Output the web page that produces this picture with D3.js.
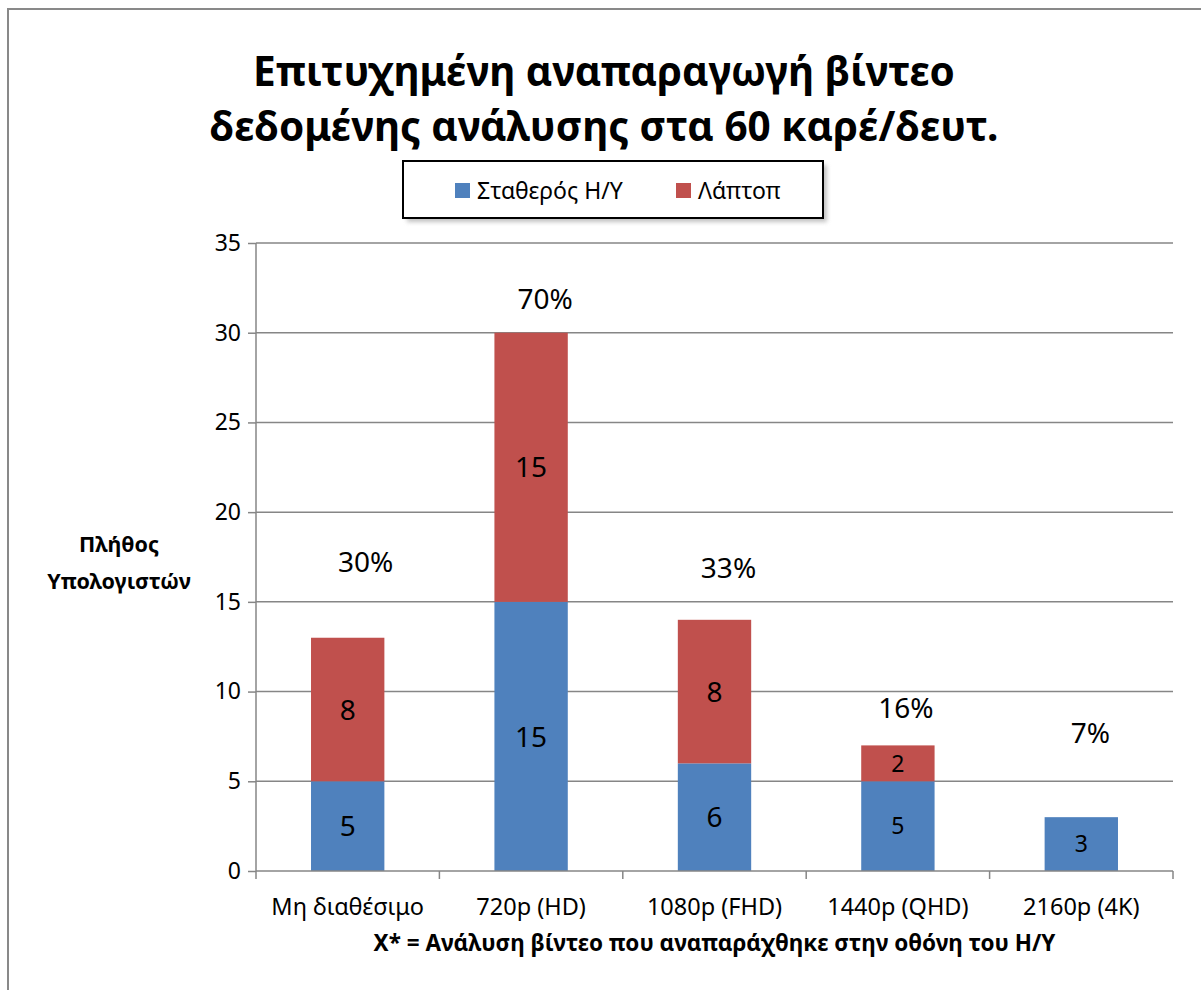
<!DOCTYPE html>
<html>
<head>
<meta charset="utf-8">
<script src="https://cdn.jsdelivr.net/npm/d3@7"></script>
<style>
  body { margin: 0; background: #fff; }
  svg { display: block; font-family: "Noto Sans", "Open Sans", sans-serif; }
</style>
</head>
<body>
<svg id="chart" width="1201" height="990"></svg>
<script>
const categories = ["Μη διαθέσιμο", "720p (HD)", "1080p (FHD)", "1440p (QHD)", "2160p (4K)"];
const desktop = [5, 15, 6, 5, 3];
const laptop = [8, 15, 8, 2, 0];
const percentLabels = ["30%", "70%", "33%", "16%", "7%"];
const percentAt = [17.2, 31.9, 16.9, 9.1, 7.7]; // where the % text sits, in y units
const yTicks = [0, 5, 10, 15, 20, 25, 30, 35];
const seriesNames = ["Σταθερός Η/Υ", "Λάπτοπ"];
const colors = ["#4F81BD", "#C0504D"];

// the % text boxes were dragged a bit right of the bar centres
const pctShift = [18, 14, 14, 8, 9];

const svg = d3.select("#chart");

// outer chart frame (right/bottom edges fall outside the picture)
svg.append("rect")
  .attr("x", 8).attr("y", 9).attr("width", 1220).attr("height", 1010)
  .attr("fill", "#fff").attr("stroke", "#898989").attr("stroke-width", 2);

const margin = { top: 243, left: 256, right: 28, bottom: 119 };
const width = 1201 - margin.left - margin.right,
      height = 990 - margin.top - margin.bottom;

const x = d3.scaleBand().domain(categories).range([0, width]).paddingInner(0.6).paddingOuter(0.3);
const xOuter = d3.scaleBand().domain(categories).range([0, width]);
const y = d3.scaleLinear().domain([0, 35]).range([height, 0]);

const g = svg.append("g").attr("transform", `translate(${margin.left},${margin.top})`);

// gridlines
g.selectAll(".grid").data(yTicks.filter(d => d > 0)).enter().append("line")
  .attr("x1", 0).attr("x2", width)
  .attr("y1", d => y(d)).attr("y2", d => y(d))
  .attr("stroke", "#868686").attr("stroke-width", 1.5);

// stacked bars
const stack = categories.map((c, i) => [
  { s: 0, c, v: desktop[i], y0: 0, y1: desktop[i] },
  { s: 1, c, v: laptop[i], y0: desktop[i], y1: desktop[i] + laptop[i] }
]).flat().filter(d => d.v > 0);

g.selectAll(".bar").data(stack).enter().append("rect")
  .attr("x", d => x(d.c))
  .attr("width", x.bandwidth())
  .attr("y", d => y(d.y1))
  .attr("height", d => y(d.y0) - y(d.y1))
  .attr("fill", d => colors[d.s]);

// value labels
g.selectAll(".val").data(stack).enter().append("text")
  .attr("x", d => x(d.c) + x.bandwidth() / 2)
  .attr("y", d => y((d.y0 + d.y1) / 2))
  .attr("dy", "0.36em")
  .attr("text-anchor", "middle")
  .attr("font-size", d => (categories.indexOf(d.c) >= 3 ? 23 : 28))
  .attr("fill", "#000")
  .text(d => d.v);

// percentage labels
g.selectAll(".pct").data(categories).enter().append("text")
  .attr("x", (d, i) => x(d) + x.bandwidth() / 2 + pctShift[i])
  .attr("y", (d, i) => y(percentAt[i]))
  .attr("dy", "0.36em")
  .attr("text-anchor", "middle")
  .attr("font-size", 28)
  .text((d, i) => percentLabels[i]);

// y axis
const yAxis = g.append("g")
  .call(d3.axisLeft(y).tickValues(yTicks).tickSize(8).tickPadding(7));
yAxis.select(".domain").attr("stroke", "#868686").attr("stroke-width", 1.5).attr("d", `M0,0V${height}`);
yAxis.selectAll(".tick line").attr("stroke", "#868686").attr("stroke-width", 1.5);
yAxis.selectAll(".tick text").attr("font-size", 23).attr("fill", "#000").attr("font-family", "Noto Sans");

// x axis
const xAxis = g.append("g").attr("transform", `translate(0,${height})`);
xAxis.append("line").attr("x1", 0).attr("x2", width).attr("stroke", "#868686").attr("stroke-width", 1.5);
xAxis.selectAll(".xt").data(d3.range(categories.length + 1)).enter().append("line")
  .attr("x1", i => i * xOuter.step()).attr("x2", i => i * xOuter.step())
  .attr("y1", 0).attr("y2", 8)
  .attr("stroke", "#868686").attr("stroke-width", 1.5);
xAxis.selectAll(".xl").data(categories).enter().append("text")
  .attr("x", d => xOuter(d) + xOuter.bandwidth() / 2)
  .attr("y", 44)
  .attr("text-anchor", "middle")
  .attr("font-size", 23.5)
  .text(d => d);

// axis titles
svg.append("text")
  .attr("x", margin.left + width / 2).attr("y", 951)
  .attr("text-anchor", "middle").attr("font-size", 22.5).attr("font-weight", "bold")
  .text("X* = Ανάλυση βίντεο που αναπαράχθηκε στην οθόνη του Η/Υ");

const yTitle = svg.append("text")
  .attr("text-anchor", "middle").attr("font-size", 21.5).attr("font-weight", "bold");
yTitle.append("tspan").attr("x", 119).attr("y", 552).text("Πλήθος");
yTitle.append("tspan").attr("x", 119).attr("y", 589).text("Υπολογιστών");

// title
const title = svg.append("text")
  .attr("text-anchor", "middle").attr("font-size", 40.5).attr("font-weight", "bold");
title.append("tspan").attr("x", 604).attr("y", 86).text("Επιτυχημένη αναπαραγωγή βίντεο");
title.append("tspan").attr("x", 604).attr("y", 141).text("δεδομένης ανάλυσης στα 60 καρέ/δευτ.");

// legend
const legend = svg.append("g").attr("transform", "translate(403,161)");
legend.append("rect").attr("x", 4).attr("y", 4).attr("width", 420).attr("height", 57)
  .attr("fill", "#9a9a9a").attr("opacity", 0.6).style("filter", "blur(2px)");
legend.append("rect").attr("width", 420).attr("height", 57)
  .attr("fill", "#fff").attr("stroke", "#000").attr("stroke-width", 2);
const legendX = [52, 273];
seriesNames.forEach((name, i) => {
  const item = legend.append("g").attr("transform", `translate(${legendX[i]},22)`);
  item.append("rect").attr("width", 15).attr("height", 15).attr("fill", colors[i]);
  item.append("text").attr("x", 22).attr("y", 8).attr("dy", "0.36em")
    .attr("font-size", 23).text(name);
});
</script>
</body>
</html>
